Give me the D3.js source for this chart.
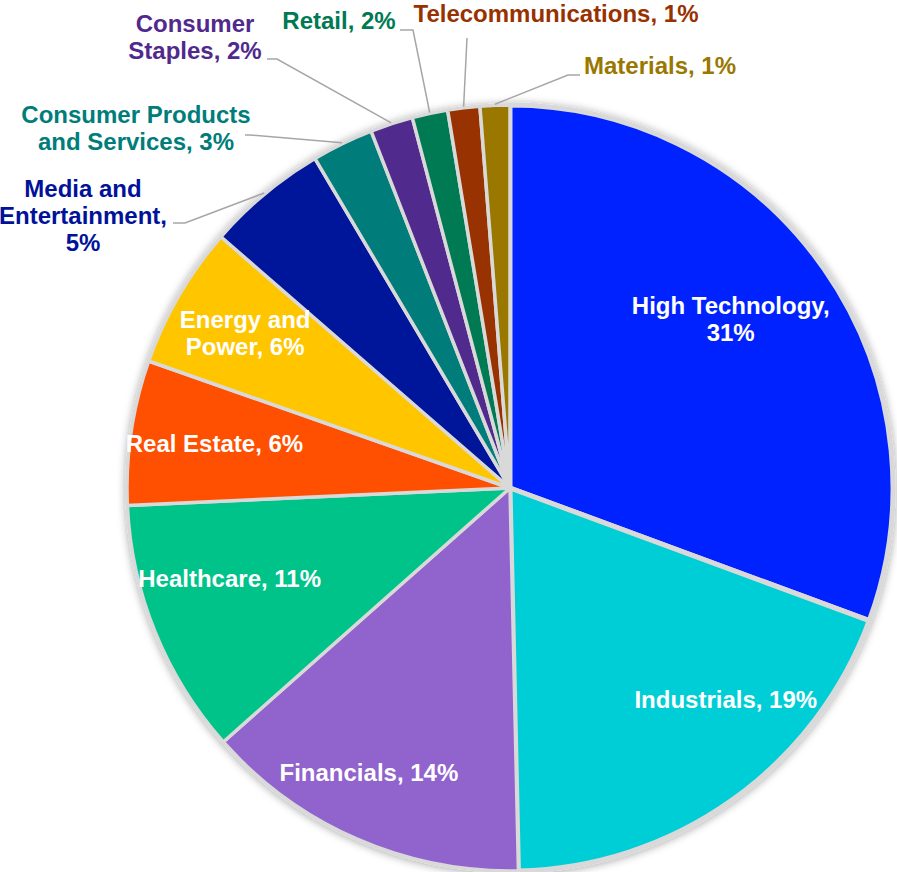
<!DOCTYPE html>
<html>
<head>
<meta charset="utf-8">
<script src="https://cdn.jsdelivr.net/npm/d3@7"></script>
<style>
  body { margin: 0; background: #fff; }
  text { font-family: "Liberation Sans", Arial, sans-serif; font-weight: bold; }
</style>
</head>
<body>
<script>
// sector shares (percent)
const sectors = ["High Technology", "Industrials", "Financials", "Healthcare", "Real Estate",
                 "Energy and Power", "Media and Entertainment", "Consumer Products and Services",
                 "Consumer Staples", "Retail", "Telecommunications", "Materials"];
const shares = [30.6, 19.0, 13.8, 10.8, 6.1, 6.0, 5.1, 2.6, 1.8, 1.5, 1.35, 1.25];
const colors = ["#0022ff", "#00ced6", "#9063cd", "#00c389", "#ff5000", "#ffc600",
                "#00129a", "#007d7a", "#51298d", "#007a53", "#983100", "#9a7800"];
// label text, {p} is replaced by the rounded share
const labelLines = [["High Technology,", "{p}"], ["Industrials, {p}"], ["Financials, {p}"],
                    ["Healthcare, {p}"], ["Real Estate, {p}"], ["Energy and", "Power, {p}"],
                    ["Media and", "Entertainment,", "{p}"], ["Consumer Products", "and Services, {p}"],
                    ["Consumer", "Staples, {p}"], ["Retail, {p}"], ["Telecommunications, {p}"], ["Materials, {p}"]];

const svgWidth = 897;
const svgHeight = 872;
const cx = 510, cy = 488;
const radius = 383;
const lineH = 27;

// inside labels: radius fraction + angle nudge (deg)
const insideLayout = [
  {r: 0.725, da: -2.5}, {r: 0.79, da: -10}, {r: 0.83, da: 2.75},
  {r: 0.77, da: 4}, {r: 0.78, da: 0}, {r: 0.80, da: 0}
];
// outside labels: text centre x, first baseline y, leader elbow and end
const outsideLayout = [
  {x: 83, y: 197, elbow: [185, 223], end: [173, 223]},
  {x: 136, y: 123, elbow: [250, 135], end: [245, 135]},
  {x: 195, y: 32, elbow: [277, 59], end: [267, 59]},
  {x: 339, y: 29, elbow: [413, 30], end: [400, 30]},
  {x: 556, y: 22, elbow: [467, 38], end: [467, 38]},
  {x: 660, y: 74, elbow: [568, 75], end: [580, 75]}
];

const data = sectors.map((s, i) => ({name: s, value: shares[i], color: colors[i], lines: labelLines[i]}));

const svg = d3.select("body").append("svg")
            .attr("width", svgWidth)
            .attr("height", svgHeight);

let defs = svg.append("defs");
let filter = defs.append("filter")
                 .attr("id", "pie-shadow")
                 .attr("x", "-10%").attr("y", "-10%")
                 .attr("width", "120%").attr("height", "120%");
filter.append("feDropShadow")
      .attr("dx", 0).attr("dy", 1)
      .attr("stdDeviation", 4)
      .attr("flood-color", "#000")
      .attr("flood-opacity", 0.35);

const pie = d3.pie().sort(null).value(d => d.value);
const arcs = pie(data);
const arc = d3.arc().innerRadius(0).outerRadius(radius);

const g = svg.append("g").attr("transform", "translate(" + cx + "," + cy + ")");

g.append("g")
 .style("filter", "url(#pie-shadow)")
 .selectAll("path")
 .data(arcs)
 .join("path")
 .attr("d", arc)
 .attr("fill", d => d.data.color)
 .attr("stroke", "#d9d9d9")
 .attr("stroke-width", d => d.index < 2 ? 5 : 3.5)
 .attr("stroke-linejoin", "round");

function fmt(d) {
  let p = Math.round(d.data.value) + "%";
  return d.data.lines.map(l => l.replace("{p}", p));
}
function polar(angle, r) {
  return [r * Math.sin(angle), -r * Math.cos(angle)];
}

// inside labels
arcs.slice(0, 6).forEach((d, i) => {
  let lay = insideLayout[i];
  let mid = (d.startAngle + d.endAngle) / 2 + lay.da * Math.PI / 180;
  let [x, y] = polar(mid, lay.r * radius);
  let lines = fmt(d);
  let t = g.append("text")
           .attr("text-anchor", "middle")
           .attr("fill", "#fff")
           .style("font-size", "24px");
  lines.forEach((l, k) => {
    t.append("tspan")
     .attr("x", x)
     .attr("y", y + (k - (lines.length - 1) / 2) * lineH + 8)
     .text(l);
  });
});

// outside labels with leader lines
arcs.slice(6).forEach((d, i) => {
  let lay = outsideLayout[i];
  let mid = (d.startAngle + d.endAngle) / 2;
  let [sx, sy] = polar(mid, radius + 1);
  svg.append("polyline")
     .attr("points", [[sx + cx, sy + cy], lay.elbow, lay.end].map(p => p.join(",")).join(" "))
     .attr("fill", "none")
     .attr("stroke", "#a6a6a6")
     .attr("stroke-width", 1.5);
  let t = svg.append("text")
             .attr("text-anchor", "middle")
             .attr("fill", d.data.color)
             .style("font-size", "24px");
  fmt(d).forEach((l, k) => {
    t.append("tspan")
     .attr("x", lay.x)
     .attr("y", lay.y + k * lineH)
     .text(l);
  });
});
</script>
</body>
</html>
